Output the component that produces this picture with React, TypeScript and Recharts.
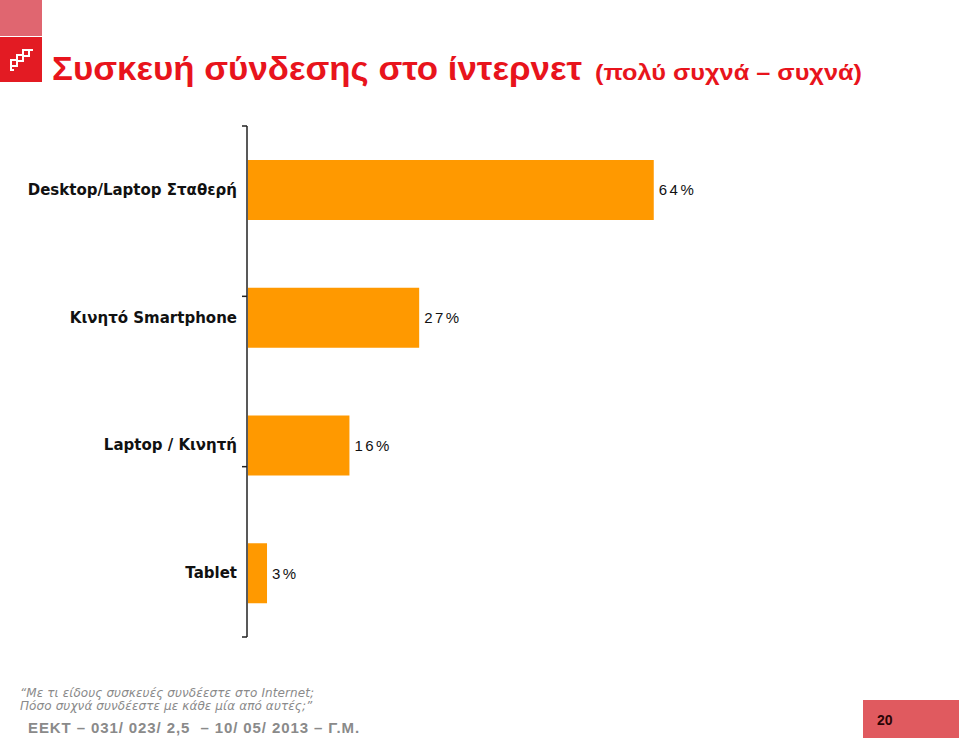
import React from "react"
import { BarChart, Bar, XAxis, YAxis, LabelList } from "recharts"

const categories = ["Desktop/Laptop Σταθερή", "Κινητό Smartphone", "Laptop / Κινητή", "Tablet"]
const shares = [64, 27, 16, 3]
const frameTicks = [0, 1, 2, 3, 4]

const data = categories.map((name, i) => ({ name, value: shares[i] }))

const ORANGE = "#FF9900"
const RED = "#E8141C"
const GREY = "#8a8a8a"

function Logo() {
  return (
    <svg width={44} height={84} style={{ position: "absolute", left: 0, top: 0 }}>
      <rect x={0} y={0} width={42} height={36} fill="#E06670" />
      <rect x={0} y={37} width={42} height={45} fill="#E31B23" />
      <g stroke="#fff" strokeWidth={2} fill="none">
        <path d="M11 60 h6 v6 h-6 z M17 55 h6 v6 h-6 z M23 50 h6 v6 h-6 z" />
        <path d="M11 66 v4 h3 M29 50 h4" />
      </g>
    </svg>
  )
}

function CategoryTick(props: any) {
  const { x, y, payload } = props
  return (
    <text
      x={x}
      y={y}
      dy={5}
      textAnchor="end"
      fontSize={15}
      fontWeight="bold"
      fill="#111"
      fontFamily="DejaVu Sans"
    >
      {payload.value}
    </text>
  )
}

const NoLabel = () => <g />

export default function App() {
  return (
    <div style={{ position: "absolute", left: 0, top: 0, width: 959, height: 739, background: "#fff", overflow: "hidden" }}>
      <Logo />
      <svg width={959} height={110} style={{ position: "absolute", left: 0, top: 0 }}>
        <g transform="translate(0 80) scale(1 1.1)">
          <text x={52} y={0} fill={RED} fontFamily="Liberation Sans" fontWeight="bold" fontSize={31} textLength={530} lengthAdjust="spacingAndGlyphs">
            Συσκευή σύνδεσης στο ίντερνετ
          </text>
          <text x={595} y={0} fill={RED} fontFamily="Liberation Sans" fontWeight="bold" fontSize={20} textLength={267} lengthAdjust="spacingAndGlyphs">
            (πολύ συχνά – συχνά)
          </text>
        </g>
      </svg>

      <div style={{ position: "absolute", left: 0, top: 0 }}>
        <BarChart
          width={959}
          height={739}
          data={data}
          layout="vertical"
          margin={{ top: 126, right: 77, bottom: 102, left: 246 }}
        >
          <XAxis type="number" domain={[0, 100]} hide />
          <YAxis
            yAxisId="frame"
            type="number"
            domain={[0, 4]}
            ticks={frameTicks}
            width={1}
            tick={NoLabel}
            tickSize={5}
            axisLine={{ stroke: "#222", strokeWidth: 1.5 }}
            tickLine={{ stroke: "#222", strokeWidth: 1.5 }}
            allowDataOverflow
          />
          <YAxis
            type="category"
            dataKey="name"
            width={1}
            axisLine={false}
            tickLine={false}
            tickSize={0}
            tickMargin={11}
            tick={CategoryTick}
          />
          <Bar dataKey="value" fill={ORANGE} barSize={60} isAnimationActive={false}>
            <LabelList
              dataKey="value"
              position="right"
              offset={5}
              formatter={(v: number) => `${v}%`}
              style={{ fontSize: 15, fill: "#111", letterSpacing: 2.5, fontFamily: "Liberation Sans" }}
            />
          </Bar>
        </BarChart>
      </div>

      <div
        style={{
          position: "absolute",
          left: 20,
          top: 687,
          color: GREY,
          fontFamily: "DejaVu Sans",
          fontStyle: "italic",
          fontSize: 12,
          lineHeight: "13px",
          letterSpacing: 0.1,
          whiteSpace: "pre",
        }}
      >
        {"“Με τι είδους συσκευές συνδέεστε στο Internet;\nΠόσο συχνά συνδέεστε με κάθε μία από αυτές;”"}
      </div>
      <div
        style={{
          position: "absolute",
          left: 28,
          top: 719,
          color: GREY,
          fontFamily: "Liberation Sans",
          fontWeight: "bold",
          fontSize: 15,
          letterSpacing: 0.9,
          whiteSpace: "pre",
        }}
      >
        {"ΕΕΚΤ – 031/ 023/ 2,5  – 10/ 05/ 2013 – Γ.Μ."}
      </div>

      <div
        style={{
          position: "absolute",
          left: 863,
          top: 700,
          width: 96,
          height: 38,
          background: "#E05A5F",
        }}
      >
        <span
          style={{
            position: "absolute",
            left: 14,
            top: 12,
            fontFamily: "Liberation Sans",
            fontWeight: "bold",
            fontSize: 14,
            color: "#2a0505",
          }}
        >
          20
        </span>
      </div>
    </div>
  )
}
